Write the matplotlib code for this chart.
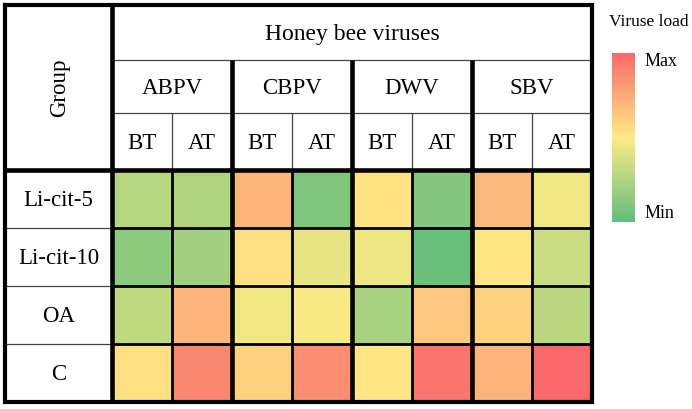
import numpy as np
import matplotlib
matplotlib.use("Agg")
import matplotlib.pyplot as plt
from matplotlib.colors import LinearSegmentedColormap

plt.rcParams['font.family'] = ['Liberation Serif', 'DejaVu Serif']

groups = ["Li-cit-5", "Li-cit-10", "OA", "C"]
viruses = ["ABPV", "CBPV", "DWV", "SBV"]
times = ["BT", "AT"]

# relative viruse load per column (ABPV BT, ABPV AT, CBPV BT, ...), 0 = min, 1 = max
li_cit_5 = [0.27, 0.24, 0.71, 0.09, 0.53, 0.10, 0.69, 0.45]
li_cit_10 = [0.14, 0.20, 0.54, 0.42, 0.44, 0.02, 0.52, 0.33]
oa = [0.30, 0.71, 0.45, 0.48, 0.22, 0.64, 0.60, 0.28]
control = [0.54, 0.88, 0.60, 0.86, 0.52, 0.95, 0.71, 1.00]

load = np.array([li_cit_5, li_cit_10, oa, control])

cmap = LinearSegmentedColormap.from_list("load", ["#63BE7B", "#FFEB84", "#F8696B"])

W, H = 692, 409
fig = plt.figure(figsize=(W / 100, H / 100), dpi=100)
ax = fig.add_axes([0, 0, 1, 1])
ax.set_xlim(0, W)
ax.set_ylim(H, 0)
ax.axis("off")

# table geometry (pixels)
left, right = 5, 592
top, bottom = 5, 402
xg = 112
cw = 60
xs = xg + cw * np.arange(9)
y1, y2, y3 = 60, 113, 170
ys = np.linspace(y3, bottom, 5)

mesh = ax.pcolormesh(xs, ys, load, cmap=cmap, vmin=0, vmax=1)

thin = dict(color="#444444", lw=0.9)
mid = dict(color="black", lw=2.0)
thick = dict(color="black", lw=3.3)

# header lines
ax.hlines([y1, y2], xg, right, **thin)
ax.vlines(xs[1::2], y2, y3, **thin)
# group column row separators
ax.hlines(ys[1:-1], left, xg, **thin)
# data grid
ax.hlines(ys[1:-1], xg, right, **mid)
ax.vlines(xs[1::2], y3, bottom, **mid)
ax.vlines(xs[2:-1:2], y1, bottom, **thick)
ax.vlines(xg, top, bottom, **thick)
ax.hlines(y3, left, right, **thick)
ax.plot([left, right, right, left, left], [top, top, bottom, bottom, top],
        color="black", lw=3.0, solid_joinstyle="miter")

fs = 16.5
dy = 2
ax.text((left + xg) / 2 + 1, (top + y3) / 2, "Group", rotation=90,
        ha="center", va="center", fontsize=fs)
ax.text((xg + right) / 2, (top + y1) / 2 + dy, "Honey bee viruses",
        ha="center", va="center", fontsize=17)
for i, v in enumerate(viruses):
    ax.text(xs[2 * i] + cw, (y1 + y2) / 2 + dy, v, ha="center", va="center", fontsize=fs)
    for j, t in enumerate(times):
        ax.text(xs[2 * i + j] + cw / 2, (y2 + y3) / 2 + dy, t,
                ha="center", va="center", fontsize=fs)
for k, g in enumerate(groups):
    ax.text((left + xg) / 2, (ys[k] + ys[k + 1]) / 2 + dy, g,
            ha="center", va="center", fontsize=fs)

# colour bar
cax = fig.add_axes([612 / W, 1 - 222 / H, 23 / W, 169 / H])
cb = fig.colorbar(mesh, cax=cax)
cb.set_ticks([])
cb.outline.set_visible(False)
ax.text(609, 22, "Viruse load", ha="left", va="center", fontsize=12.5)
ax.text(645, 61, "Max", ha="left", va="center", fontsize=13)
ax.text(645, 214, "Min", ha="left", va="center", fontsize=13)

fig.savefig("out.png", dpi=100)
